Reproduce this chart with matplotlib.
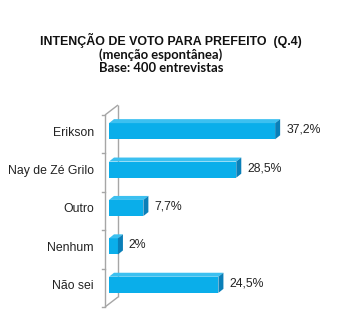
import matplotlib
matplotlib.use("Agg")
import matplotlib.pyplot as plt
from matplotlib.patches import Polygon

plt.rcParams['font.family'] = ['Liberation Sans', 'DejaVu Sans']

categorias = ['Erikson', 'Nay de Zé Grilo', 'Outro', 'Nenhum', 'Não sei']
valores = [37.2, 28.5, 7.7, 2.0, 24.5]
rotulos = ['37,2%', '28,5%', '7,7%', '2%', '24,5%']

titulo = 'INTENÇÃO DE VOTO PARA PREFEITO  (Q.4)'
subtitulo = '(menção espontânea)\nBase: 400 entrevistas'

W, H = 347, 323
fig = plt.figure(figsize=(W / 100, H / 100), dpi=100)
fig.patch.set_facecolor('white')

# área do gráfico em pixels (plano frontal da parede)
x0, y0, larg, alt = 105, 16, 230, 192
ax = fig.add_axes([x0 / W, y0 / H, larg / W, alt / H])
xmax = 51.5
ax.set_xlim(0, xmax)
ax.set_ylim(len(categorias) - 0.5, -0.5)
ax.axis('off')

# conversão de pixels para unidades de dados
px_x = larg / xmax
px_y = alt / len(categorias)
def dx(p):
    return p / px_x
def dy(p):
    return -p / px_y

cinza = '#a6a6a6'
# parede lateral em perspectiva
n = len(categorias)
topo, base = -0.5, n - 0.5
fx, fy = dx(13), dy(10)
linhas = [
    ([0, 0], [topo, base]),
    ([fx, fx], [topo + fy, base + fy]),
    ([0, fx], [topo, topo + fy]),
    ([0, fx], [base, base + fy]),
]
for xs, ys in linhas:
    ax.plot(xs, ys, color=cinza, lw=1, clip_on=False, solid_capstyle='butt')
for i in range(n + 1):
    ax.plot([dx(-3), 0], [i - 0.5, i - 0.5], color=cinza, lw=1, clip_on=False)

# barras 3D: face frontal, topo e lateral
ox, oy = dx(4), dy(3)
px_d, py_d = dx(5), dy(4)
h = 0.42
frente = '#0aaeea'
lado = '#0a7fb8'
cima = '#3cc0f0'
for i, v in enumerate(valores):
    c = i + oy
    ax.barh(c, v, left=ox, height=h, color=frente, edgecolor='none', zorder=3)
    t = c - h / 2
    b = c + h / 2
    ax.add_patch(Polygon([(ox, t), (ox + v, t), (ox + v + px_d, t + py_d),
                          (ox + px_d, t + py_d)], closed=True,
                         facecolor=cima, edgecolor='none', zorder=3))
    ax.add_patch(Polygon([(ox + v, t), (ox + v + px_d, t + py_d),
                          (ox + v + px_d, b + py_d), (ox + v, b)], closed=True,
                         facecolor=lado, edgecolor='none', zorder=3))
    ax.text(ox + v + px_d + dx(6), c + dy(1.5), rotulos[i], fontsize=8.8,
            va='center', ha='left', color='#222222')
    ax.text(dx(-11), i + 0.5 * oy, categorias[i], fontsize=8.8,
            va='center', ha='right', color='#222222')

fig.text(171 / W, 1 - 40 / H, titulo, fontsize=8.9, fontweight='bold',
         ha='center', va='center', color='#111111')
fig.text(161 / W, 1 - 61 / H, subtitulo, fontsize=9.4, fontweight='bold',
         family=['Lato', 'DejaVu Sans'], ha='center', va='center',
         linespacing=1.05, color='#111111')

fig.savefig('out.png', dpi=100, facecolor='white')
